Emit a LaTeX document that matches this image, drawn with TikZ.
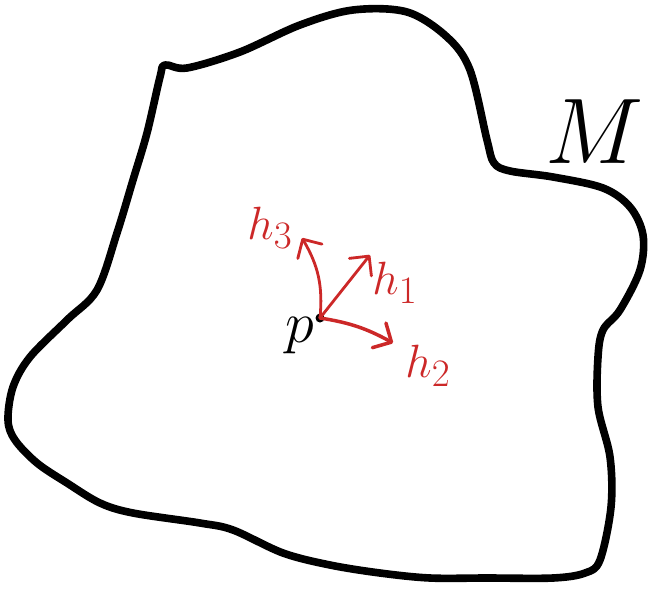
\documentclass[tikz,border=0pt]{standalone}
\usepackage{amsmath, amssymb}
\usepackage{tikz}
\usetikzlibrary{arrows.meta}
\definecolor{vecred}{RGB}{204,40,40}
\tikzset{
  rim/.style={line width=6.5pt, line join=round, line cap=round},
  vec/.style={draw=vecred, line width=2.4pt, line cap=round, -{Straight Barb[length=12pt, width=24pt, round]}},
  veclabel/.style={text=vecred, font=\Huge, scale=1.6, transform shape, inner sep=0pt},
  ptlabel/.style={font=\Huge, scale=2, transform shape, inner sep=0pt},
}

\begin{document}
\begin{tikzpicture}[x=0.03cm, y=-0.03cm]
\useasboundingbox (0,0) rectangle (654,589);
% the manifold
\draw[rim] plot[smooth cycle, tension=0.55] coordinates {
  (165,65) (187,68) (240,52) (300,25) (353,10) (407,12) (447,37) (470,70)
  (487,140) (494,163) (510,171) (553,177) (603,188) (630,207) (643,235)
  (640,270) (620,310) (603,330) (598,357) (598,407) (610,457) (611,507)
  (600,560) (585,573) (553,578) (487,578) (430,578) (380,573) (330,565)
  (283,553) (233,530) (200,523) (133,513) (100,503) (67,483) (37,463)
  (15,440) (8,420) (13,387) (30,357) (67,320) (97,290) (117,233) (133,180)
  (147,133) (160,77)};
\node[ptlabel, scale=1.6] (M) at (595,132) {$M$};
% the point and its vectors
\fill (320,318) circle (4.5);
\coordinate (p) at (320,318);
\node[ptlabel] (plabel) at (300,336) {$p$};
\coordinate (n1) at (370,255);
\coordinate (n2) at (393,343);
\coordinate (n3) at (302,238);
\draw[vec] (p) -- (n1);
\draw[vec, line width=3pt] (p) to[bend left=10] (n2);
\draw[vec] (p) to[bend right=18] (n3);
\node[veclabel] (h1) at (395,283) {$h_1$};
\node[veclabel] (h2) at (428,366) {$h_2$};
\node[veclabel] (h3) at (270,228) {$h_3$};
\end{tikzpicture}
\end{document}
